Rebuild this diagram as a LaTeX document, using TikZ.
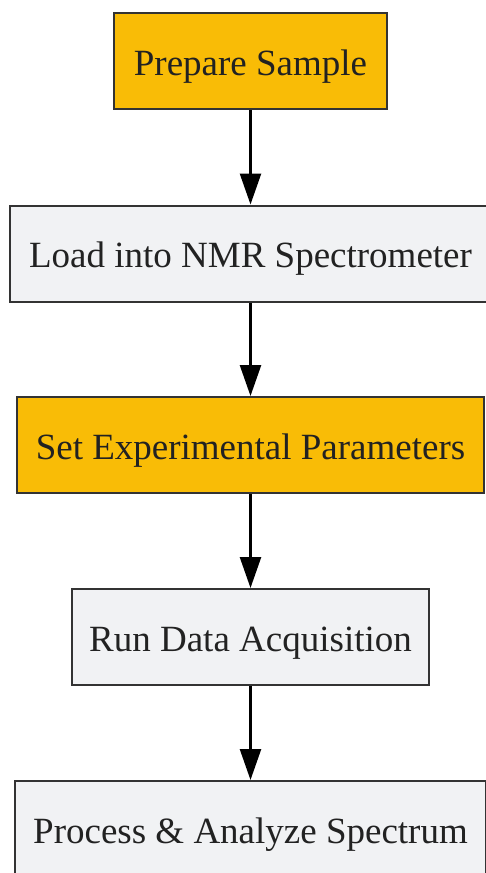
\documentclass[tikz,border=0pt]{standalone}
\usepackage{fontspec}
\setmainfont{Liberation Serif}
\usepackage{tikz}
\usetikzlibrary{arrows.meta}
\definecolor{nmrorange}{HTML}{F9BC06}
\definecolor{nmrgrey}{HTML}{F1F2F4}
\definecolor{nmrline}{HTML}{333333}
\definecolor{nmrtext}{HTML}{222222}
\tikzset{
  stepbox/.style = {rectangle, draw=nmrline, line width=2pt, fill=nmrgrey,
                    minimum height=96pt, inner sep=0pt, text=nmrtext,
                    text height=28pt, text depth=0pt,
                    font=\fontsize{37}{44}\selectfont},
  hot/.style     = {fill=nmrorange},
  ed/.style      = {-{Triangle[length=31pt,width=21pt]}, draw=black, line width=2.5pt},
}
\begin{document}
\begin{tikzpicture}[x=1pt,y=1pt]
  \useasboundingbox (0,0) rectangle (486,-873);
  \clip (0,0) rectangle (486,-873);
  \node[stepbox, hot, minimum width=273pt] (prep) at (250.5,-61) {Prepare Sample};
  \node[stepbox, minimum width=481pt] (load) at (250.5,-253.5) {Load into NMR Spectrometer};
  \node[stepbox, hot, minimum width=467pt] (param) at (250.5,-445) {Set Experimental Parameters};
  \node[stepbox, minimum width=357pt] (run) at (250.5,-637) {Run Data Acquisition};
  \node[stepbox, minimum width=471pt] (proc) at (250.5,-829) {Process \& Analyze Spectrum};
  % straight chain, top to bottom
  \draw[ed] (prep) -- (load);
  \draw[ed] (load) -- (param);
  \draw[ed] (param) -- (run);
  \draw[ed] (run) -- (proc);
\end{tikzpicture}
\end{document}
